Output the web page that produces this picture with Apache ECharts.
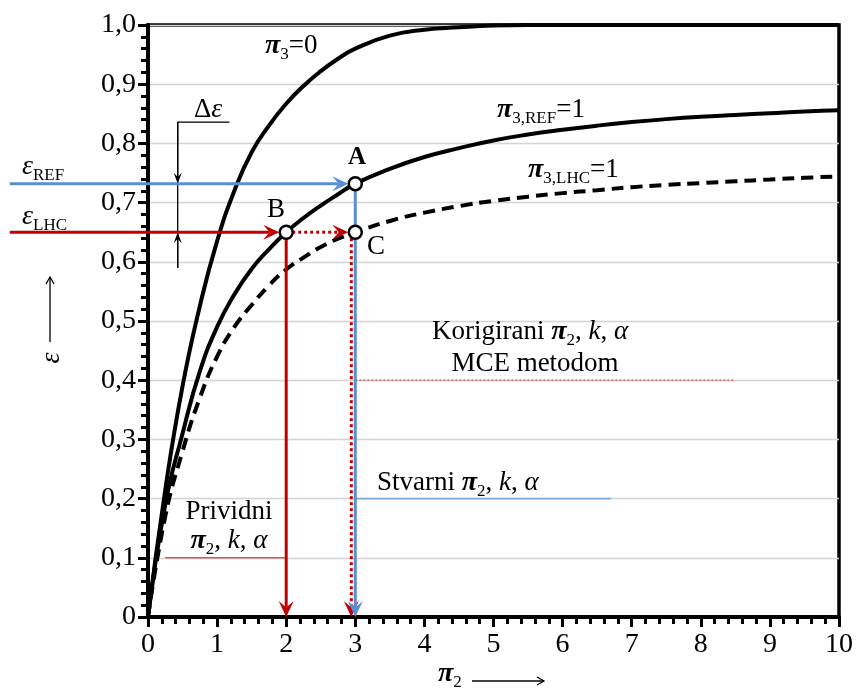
<!DOCTYPE html>
<html>
<head>
<meta charset="utf-8">
<script src="https://cdn.jsdelivr.net/npm/echarts@6/dist/echarts.min.js"></script>
<style>
html, body { margin: 0; padding: 0; background: #fff; }
#chart { width: 856px; height: 690px; }
</style>
</head>
<body>
<div id="chart"></div>
<script>
var F = 'Liberation Serif';

// π2 values and efficiency curves
var pi2 = [0, 0.25, 0.5, 0.75, 1, 1.25, 1.5, 1.75, 2, 2.25, 2.5, 2.75, 3,
  3.5, 4, 4.5, 5, 5.5, 6, 6.5, 7, 7.5, 8, 8.5, 9, 9.5, 10];
var eps0 = [0, 0.215, 0.39, 0.525, 0.635, 0.72, 0.785, 0.83, 0.867, 0.897, 0.922, 0.943, 0.960,
  0.982, 0.992, 0.996, 0.999, 1, 1, 1, 1, 1, 1, 1, 1, 1, 1];
var epsRef = [0, 0.19, 0.31, 0.415, 0.49, 0.545, 0.588, 0.621, 0.65, 0.674, 0.695, 0.714, 0.732,
  0.757, 0.777, 0.792, 0.805, 0.815, 0.823, 0.83, 0.836, 0.841, 0.845, 0.848, 0.851, 0.854, 0.856];
var epsLhc = [0, 0.17, 0.28, 0.37, 0.44, 0.49, 0.527, 0.56, 0.587, 0.607, 0.625, 0.639, 0.65,
  0.669, 0.683, 0.694, 0.703, 0.710, 0.716, 0.721, 0.726, 0.730, 0.733, 0.736, 0.739, 0.742, 0.744];

// points A, B, C
var markers = [[3, 0.732], [2, 0.65], [3, 0.65]];

// arrows [x1, y1, x2, y2]
var blueArrows = [[-2, 0.732, 3, 0.732], [3, 0.732, 3, 0]];
var redArrows = [[-2, 0.65, 2, 0.65], [2, 0.65, 2, 0]];
var redDotArrows = [[2, 0.65, 3, 0.65], [3, 0.65, 3, 0]];
var deltaArrows = [[0.43, 0.836, 0.43, 0.732], [0.43, 0.59, 0.43, 0.65]];
var deltaLine = [[1.18, 0.836], [0.43, 0.836], [0.43, 0.59]];

// underlines of the notes
var korUnder = [[3, 0.4], [8.5, 0.4]];
var stvUnder = [[3, 0.2], [6.7, 0.2]];
var priUnder = [[0.25, 0.1], [2, 0.1]];

var BLUE = '#5b8fd4', RED = '#c00000';

function zip(xs, ys) {
  return xs.map(function (x, i) { return [x, ys[i]]; });
}

function isMarker(x, y) {
  for (var i = 0; i < markers.length; i++) {
    if (Math.abs(markers[i][0] - x) < 1e-6 && Math.abs(markers[i][1] - y) < 1e-6) return true;
  }
  return false;
}

function arrowSeries(data, color, width, dash, head, dx) {
  return {
    type: 'custom',
    data: data,
    clip: false,
    silent: true,
    z: 5,
    renderItem: function (params, api) {
      var p1 = api.coord([api.value(0), api.value(1)]);
      var p2 = api.coord([api.value(2), api.value(3)]);
      var ux = p2[0] - p1[0], uy = p2[1] - p1[1];
      var len = Math.sqrt(ux * ux + uy * uy);
      ux /= len; uy /= len;
      var ddx = (ux === 0) ? dx : 0;
      var gap = isMarker(api.value(2), api.value(3)) ? 7 : 0;
      var tx = p2[0] - ux * gap + ddx, ty = p2[1] - uy * gap;
      var nx = -uy, ny = ux;
      var L = head[0], W = head[1];
      var pts = [
        [tx, ty],
        [tx - ux * L + nx * W / 2, ty - uy * L + ny * W / 2],
        [tx - ux * L * 0.6, ty - uy * L * 0.6],
        [tx - ux * L - nx * W / 2, ty - uy * L - ny * W / 2]
      ];
      return {
        type: 'group',
        children: [{
          type: 'line',
          shape: { x1: p1[0] + ddx, y1: p1[1], x2: tx - ux * L * 0.6, y2: ty - uy * L * 0.6 },
          style: { stroke: color, lineWidth: width, lineDash: dash, fill: null }
        }, {
          type: 'polygon',
          shape: { points: pts },
          style: { fill: color }
        }]
      };
    }
  };
}

var rich = {
  n: { fontFamily: F, fontSize: 27, fill: '#000', lineHeight: 34, verticalAlign: 'middle' },
  i: { fontFamily: F, fontSize: 27, fontStyle: 'italic', fill: '#000', lineHeight: 34, verticalAlign: 'middle' },
  p: { fontFamily: F, fontSize: 28, fontStyle: 'italic', fontWeight: 'bold', fill: '#000', lineHeight: 34, verticalAlign: 'middle' },
  e: { fontFamily: F, fontSize: 28, fontStyle: 'italic', fill: '#000', lineHeight: 34, verticalAlign: 'middle' },
  s: { fontFamily: F, fontSize: 17, fill: '#000', lineHeight: 22, verticalAlign: 'bottom' },
  b: { fontFamily: F, fontSize: 25, fontWeight: 'bold', fill: '#000', lineHeight: 34, verticalAlign: 'middle' }
};

function txt(x, y, text, align) {
  return {
    type: 'text', x: x, y: y, silent: true, z: 20,
    style: {
      text: text, rich: rich, fill: '#000',
      textAlign: align || 'left', align: align || 'left',
      textVerticalAlign: 'middle', verticalAlign: 'middle'
    }
  };
}

var chart = echarts.init(document.getElementById('chart'));

var option = {
  animation: false,
  backgroundColor: '#fff',
  grid: {
    left: 148, right: 15, top: 25, bottom: 73,
    show: true, borderColor: '#000', borderWidth: 3.5, backgroundColor: 'transparent'
  },
  xAxis: {
    type: 'value', min: 0, max: 10, interval: 1,
    axisLine: { show: true, onZero: false, lineStyle: { color: '#000', width: 4 } },
    axisTick: { show: true, length: 10, lineStyle: { color: '#000', width: 3 } },
    minorTick: { show: true, splitNumber: 5, length: 7, lineStyle: { color: '#000', width: 3 } },
    axisLabel: { fontFamily: F, fontSize: 28, color: '#000', margin: 14 },
    splitLine: { show: false }
  },
  yAxis: {
    type: 'value', min: 0, max: 1, interval: 0.1,
    axisLine: { show: true, onZero: false, lineStyle: { color: '#000', width: 4 } },
    axisTick: { show: true, length: 10, lineStyle: { color: '#000', width: 3 } },
    minorTick: { show: true, splitNumber: 5, length: 7, lineStyle: { color: '#000', width: 3 } },
    axisLabel: {
      fontFamily: F, fontSize: 28, color: '#000', margin: 12,
      formatter: function (v) { return v === 0 ? '0' : v.toFixed(1).replace('.', ','); }
    },
    splitLine: { show: true, lineStyle: { color: '#d4d4d4', width: 1.3 } }
  },
  series: [
    { type: 'line', data: zip(pi2, eps0), smooth: 0.5, symbol: 'none', z: 3,
      lineStyle: { color: '#000', width: 4 } },
    { type: 'line', data: zip(pi2, epsRef), smooth: 0.5, symbol: 'none', z: 3,
      lineStyle: { color: '#000', width: 4 } },
    { type: 'line', data: zip(pi2, epsLhc), smooth: 0.5, symbol: 'none', z: 3,
      lineStyle: { color: '#000', width: 4, type: [12, 7] } },
    { type: 'line', data: korUnder, symbol: 'none', z: 2,
      lineStyle: { color: '#d04040', width: 1.2, type: [2, 2] } },
    { type: 'line', data: stvUnder, symbol: 'none', z: 2,
      lineStyle: { color: '#7fa8dd', width: 1.6 } },
    { type: 'line', data: priUnder, symbol: 'none', z: 2,
      lineStyle: { color: '#d85858', width: 1.6 } },
    { type: 'line', data: deltaLine, symbol: 'none', z: 4, clip: false,
      lineStyle: { color: '#000', width: 1.3 } },
    arrowSeries(deltaArrows, '#000', 1.3, null, [11, 8], 0),
    arrowSeries(redDotArrows, RED, 3, [3, 3], [16, 15], -4),
    arrowSeries(redArrows, RED, 3, null, [16, 15], 0),
    arrowSeries(blueArrows, BLUE, 3, null, [16, 15], 0),
    { type: 'scatter', data: markers, symbol: 'circle', symbolSize: 13, z: 10,
      itemStyle: { color: '#fff', borderColor: '#000', borderWidth: 2.5, opacity: 1 } }
  ],
  graphic: [
    txt(265, 46, '{p|π}{s|3}{n|=0}'),
    txt(497, 110, '{p|π}{s|3,REF}{n|=1}'),
    txt(528, 170, '{p|π}{s|3,LHC}{n|=1}'),
    txt(357, 158, '{b|A}', 'center'),
    txt(276, 210, '{n|B}', 'center'),
    txt(376, 247, '{n|C}', 'center'),
    txt(22, 167, '{e|ε}{s|REF}'),
    txt(22, 217, '{e|ε}{s|LHC}'),
    txt(194, 110, '{n|Δ}{e|ε}'),
    txt(530, 332, '{n|Korigirani }{p|π}{s|2}{n|, }{i|k}{n|, }{i|α}', 'center'),
    txt(535, 364, '{n|MCE metodom}', 'center'),
    txt(377, 483, '{n|Stvarni }{p|π}{s|2}{n|, }{i|k}{n|, }{i|α}'),
    txt(229, 512, '{n|Prividni}', 'center'),
    txt(229, 541, '{p|π}{s|2}{n|, }{i|k}{n|, }{i|α}', 'center'),
    // axis names
    txt(438, 674, '{p|π}{s|2}'),
    {
      type: 'text', x: 52, y: 358, rotation: Math.PI / 2, silent: true,
      style: { text: '{e|ε}', rich: rich, textAlign: 'center', align: 'center', textVerticalAlign: 'middle', verticalAlign: 'middle' }
    },
    { type: 'line', silent: true, shape: { x1: 472, y1: 681, x2: 544, y2: 681 }, style: { stroke: '#000', lineWidth: 1.3 } },
    { type: 'polyline', silent: true, shape: { points: [[537, 677], [544, 681], [537, 685]] }, style: { stroke: '#000', lineWidth: 1.3, fill: null } },
    { type: 'line', silent: true, shape: { x1: 50, y1: 342, x2: 50, y2: 277 }, style: { stroke: '#000', lineWidth: 1.3 } },
    { type: 'polyline', silent: true, shape: { points: [[46, 284], [50, 277], [54, 284]] }, style: { stroke: '#000', lineWidth: 1.3, fill: null } }
  ]
};

chart.setOption(option);
window.onresize = chart.resize;
</script>
</body>
</html>
